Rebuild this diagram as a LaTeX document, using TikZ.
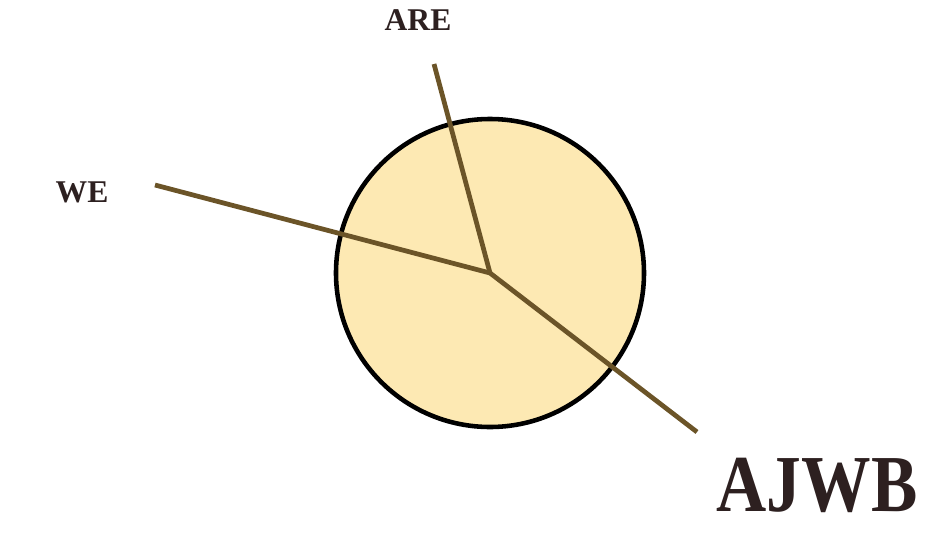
\documentclass[tikz,border=0pt]{standalone}
\usepackage{fontspec}
\setmainfont{Liberation Serif}
\usepackage{xcolor}
\usetikzlibrary{positioning}
\definecolor{discfill}{HTML}{FDE9B3}
\definecolor{spokecol}{HTML}{6B5428}
\definecolor{labelcol}{HTML}{2D2020}

\begin{document}
\begin{tikzpicture}[
    disc/.style={circle,draw=black,line width=1.3pt,fill=discfill,minimum size=3.08cm,inner sep=0pt},
    spoke/.style={draw=spokecol,line width=1.35pt},
    tag/.style={text=labelcol,font=\bfseries\fontsize{9}{11}\selectfont,inner sep=0pt},
    bigtag/.style={text=labelcol,font=\bfseries\fontsize{23}{27}\selectfont,inner sep=0pt,xscale=0.86,transform shape}
]
\useasboundingbox (0,0) rectangle (9.26,5.36);
\node[disc] (hub) at (4.90,2.63) {};
\coordinate (centre) at (4.90,2.63);
\coordinate (endare) at (4.34,4.72);
\coordinate (endwe) at (1.55,3.51);
\coordinate (endajwb) at (6.97,1.04);
\node[tag] (are) at (4.18,5.16) {ARE};
\node[tag] (we) at (0.82,3.44) {WE};
\node[bigtag] (ajwb) at (8.17,0.51) {AJWB};

\draw[spoke] (centre) -- (endare);
\draw[spoke] (centre) -- (endwe);
\draw[spoke] (centre) -- (endajwb);
\end{tikzpicture}
\end{document}
